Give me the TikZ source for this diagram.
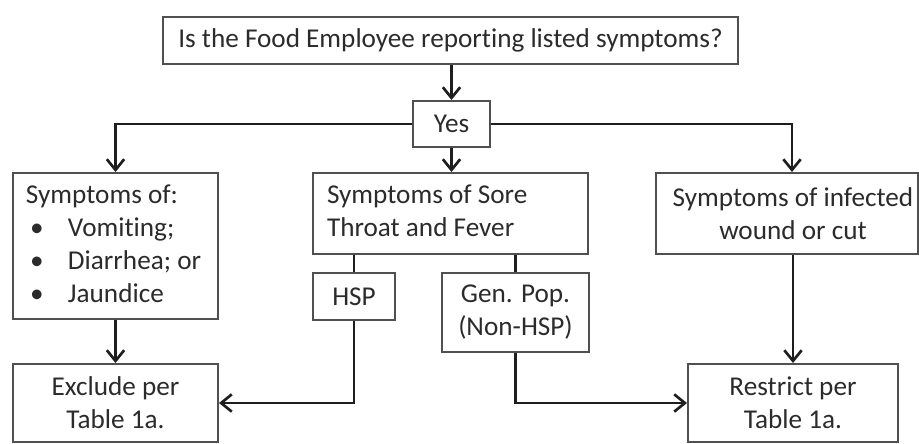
\documentclass[tikz,border=0pt]{standalone}
\usepackage{fontspec}
\setmainfont{Carlito}[Ligatures=NoCommon]
\usetikzlibrary{arrows.meta}
\definecolor{txt}{HTML}{2b2b2b}
\definecolor{edgec}{HTML}{505050}
\definecolor{connc}{HTML}{1e1e1e}
\newcommand\pu{0.75pt}
\newcommand\itm[1]{\hspace*{3pt}\makebox[28.5pt][l]{\textbullet}#1}
\begin{document}
\begin{tikzpicture}[x=0.75pt,y=-0.75pt,
  box/.style={draw=edgec, line width=1.5pt, text=txt, font=\fontsize{20.4}{24.75}\selectfont, align=center, inner sep=0pt},
  conn/.style={draw=connc, line width=2pt},
  arr/.style={conn, -{Straight Barb[length=8pt,width=13pt]}}]
\useasboundingbox (0,0) rectangle (919,443);

\node[box, minimum width=575*\pu, minimum height=47*\pu] (top) at (450.5,40.5) {Is the Food Employee reporting listed symptoms?};
\node[box, minimum width=77*\pu, minimum height=46*\pu] (yes) at (451.5,124) {Yes};

\node[box, minimum width=205*\pu, minimum height=146*\pu] (left) at (115.5,246)
  {\makebox[134.25pt][l]{\begin{tabular}{@{}l@{}}Symptoms of:\\
   \itm{Vomiting;}\\
   \itm{Diarrhea; or}\\
   \itm{Jaundice}\end{tabular}}};
\node[box, minimum width=275*\pu, minimum height=81*\pu] (mid) at (450.5,213.5)
  {\makebox[185.25pt][l]{\begin{tabular}{@{}l@{}}Symptoms of Sore\\Throat and Fever\end{tabular}}};
\node[box, minimum width=262*\pu, minimum height=81*\pu] (right) at (787,213.5)
  {\hspace*{9pt}Symptoms of infected\\\hspace*{9pt}wound or cut};

\node[box, minimum width=82*\pu, minimum height=47*\pu] (hsp) at (354,296.5) {HSP};
\node[box, minimum width=147*\pu, minimum height=79*\pu] (gen) at (515.5,312.5) {Gen. Pop.\\(Non-HSP)};

\node[box, minimum width=205*\pu, minimum height=78*\pu] (excl) at (115.5,403) {Exclude per\\Table 1a.};
\node[box, minimum width=210*\pu, minimum height=78*\pu] (restr) at (793,403) {Restrict per\\Table 1a.};

\draw[arr] (top.south -| yes.north) -- (yes.north);
\draw[arr] (yes.west) -| (left.north);
\draw[arr] (yes.south) -- (yes.south |- mid.north);
\draw[arr] (yes.east) -| ([xshift=5*\pu]right.north);
\draw[conn] (hsp.north) -- (hsp.north |- mid.south);
\draw[conn] (gen.north) -- (gen.north |- mid.south);
\draw[arr] (left.south) -- (excl.north);
\draw[arr] (right.south -| restr.north) -- (restr.north);
\draw[arr] (hsp.south) |- (excl.east);
\draw[arr] (gen.south) |- (restr.west);
\end{tikzpicture}
\end{document}
